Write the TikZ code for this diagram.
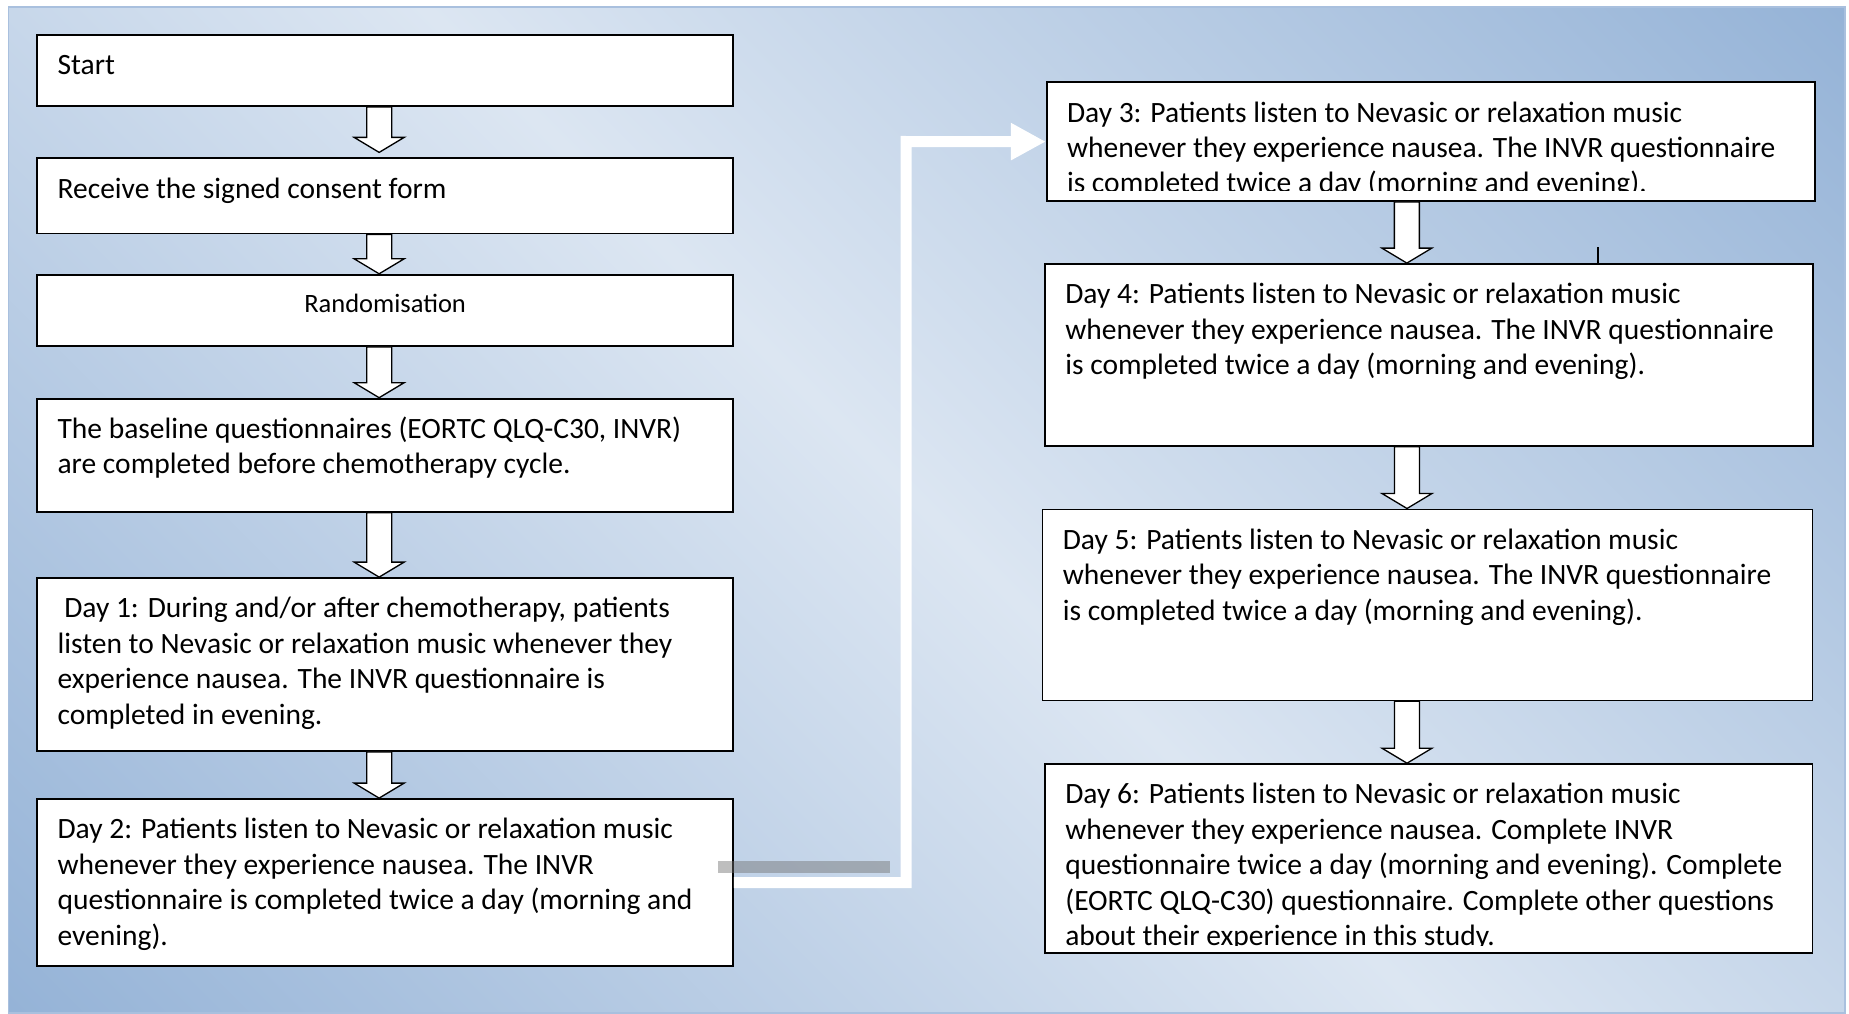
\documentclass[tikz,border=0pt]{standalone}
\usepackage{fontspec}
\setmainfont{Carlito}
\usetikzlibrary{calc,fit,arrows.meta}

\definecolor{bgdark}{HTML}{95B3D7}
\definecolor{bglight}{HTML}{DCE6F2}
\definecolor{frameline}{HTML}{A9C0DE}
\definecolor{barshade}{HTML}{707070}

% diagonal background: dark in two opposite corners, light along the diagonal
\pgfdeclareverticalshading{bgdiag}{100bp}{color(0bp)=(bgdark); color(14.6bp)=(bgdark);
  color(50bp)=(bglight); color(85.4bp)=(bgdark); color(100bp)=(bgdark)}

\newcommand\stepfont{\fontsize{29.5}{35.4}\selectfont}
\newcommand\smallstepfont{\fontsize{26.5}{31}\selectfont}
\newcommand\topstrut{\rule{0pt}{26pt}}

% hollow block arrow pointing down from #1 to the level of #2
\newcommand\blockarrow[2]{%
  \path[blockarr] let \p1=#1, \p2=#2 in
    (\x1-12.5pt,\y1) -- (\x1-12.5pt,\y2+15pt) -- (\x1-25pt,\y2+15pt) -- (\x1,\y2)
    -- (\x1+25pt,\y2+15pt) -- (\x1+12.5pt,\y2+15pt) -- (\x1+12.5pt,\y1) -- cycle;
}

\begin{document}
\begin{tikzpicture}[x=1pt,y=-1pt,
  stepbox/.style={draw=black, line width=1.8pt, fill=white, inner sep=0pt},
  steptext/.style={anchor=north west, inner sep=0pt, align=left, font=\stepfont},
  blockarr/.style={draw=black, line width=1.3pt, fill=white, line join=miter},
  flowlink/.style={draw=white, line width=11pt, line join=miter,
    -{Triangle[length=35pt,width=35pt]}},
  tickline/.style={draw=black, line width=1.3pt}]

\useasboundingbox (0,0) rectangle (1849,1014);

% framed background panel
\shade[shading=bgdiag, shading angle=-45] (8.5,7) rectangle (1845,1013);
\draw[frameline, line width=1.5pt] (8.5,7) rectangle (1845,1013);

% left column
\node[stepbox, fit={(37.3,34.7) (733,106)}] (start) {};
\node[steptext] (start-t) at ([xshift=21pt,yshift=-14.5pt]start.north west) {\topstrut Start};

\node[stepbox, fit={(37.3,158.3) (733,233.5)}] (recv) {};
\node[steptext] (recv-t) at ([xshift=21pt,yshift=-14.5pt]recv.north west) {\topstrut Receive the signed consent form};

\node[stepbox, fit={(37.3,274.7) (733,346)}] (rand) {};
\node[anchor=base, inner sep=0pt, font=\smallstepfont] (rand-t) at ([yshift=-39pt]rand.north) {Randomisation};

\node[stepbox, fit={(37.3,398.6) (733,511.8)}] (base) {};
\node[steptext] (base-t) at ([xshift=21pt,yshift=-14.5pt]base.north west)
  {\topstrut The baseline questionnaires (EORTC QLQ-C30, INVR)\\are completed before chemotherapy cycle.};

\node[stepbox, fit={(37.3,578) (733,751)}] (d1) {};
\node[steptext] (d1-t) at ([xshift=21pt,yshift=-14.5pt]d1.north west)
  {\topstrut\ Day 1: During and/or after chemotherapy, patients\\listen to Nevasic or relaxation music whenever they\\experience nausea. The INVR questionnaire is\\completed in evening.};

\node[stepbox, fit={(37.3,799) (733,966)}] (d2) {};
\node[steptext] (d2-t) at ([xshift=21pt,yshift=-14.5pt]d2.north west)
  {\topstrut Day 2: Patients listen to Nevasic or relaxation music\\whenever they experience nausea. The INVR\\questionnaire is completed twice a day (morning and\\evening).};

% right column
\node[stepbox, fit={(1046.7,82.3) (1815,201)}] (d3) {};
\begin{scope}
  \clip (d3.north west) rectangle ([yshift=11.7pt]d3.south east);
  \node[steptext] (d3-t) at ([xshift=21pt,yshift=-14.5pt]d3.north west)
    {\topstrut Day 3: Patients listen to Nevasic or relaxation music\\whenever they experience nausea. The INVR questionnaire\\is completed twice a day (morning and evening).};
\end{scope}

\node[stepbox, fit={(1045,264) (1813,445.7)}] (d4) {};
\node[steptext] (d4-t) at ([xshift=21pt,yshift=-14.5pt]d4.north west)
  {\topstrut Day 4: Patients listen to Nevasic or relaxation music\\whenever they experience nausea. The INVR questionnaire\\is completed twice a day (morning and evening).};

\node[stepbox, fit={(1042.5,509.4) (1812.5,700.4)}] (d5) {};
\node[steptext] (d5-t) at ([xshift=21pt,yshift=-14.5pt]d5.north west)
  {\topstrut Day 5: Patients listen to Nevasic or relaxation music\\whenever they experience nausea. The INVR questionnaire\\is completed twice a day (morning and evening).};

\node[stepbox, fit={(1045,764.1) (1812.5,952.8)}] (d6) {};
\begin{scope}
  \clip (d6.north west) rectangle ([yshift=8pt]d6.south east);
  \node[steptext] (d6-t) at ([xshift=21pt,yshift=-14.5pt]d6.north west)
    {\topstrut Day 6: Patients listen to Nevasic or relaxation music\\whenever they experience nausea. Complete INVR\\questionnaire twice a day (morning and evening). Complete\\(EORTC QLQ-C30) questionnaire. Complete other questions\\about their experience in this study.};
\end{scope}

% block arrows between steps
\blockarrow{([xshift=-6pt]start.south)}{([yshift=5pt]recv.north)}
\blockarrow{([xshift=-6pt]recv.south)}{(rand.north)}
\blockarrow{([xshift=-6pt]rand.south)}{(base.north)}
\blockarrow{([xshift=-6pt]base.south)}{(d1.north)}
\blockarrow{([xshift=-6pt]d1.south)}{(d2.north)}
\blockarrow{([xshift=-24pt]d3.south)}{(d4.north)}
\blockarrow{([xshift=-22pt]d4.south)}{(d5.north)}
\blockarrow{([xshift=-20.5pt]d5.south)}{(d6.north)}

% small tick above day 4
\draw[tickline] ([xshift=169pt]d4.north) -- ++(0,-16);

% grey bar at the right edge of day 2
\fill[barshade, opacity=0.45] (718,861) rectangle (890,873);

% white link from day 2 over to day 3
\coordinate (bend) at (906,141.5);
\draw[flowlink] (d2.east) -| (bend) -- (d3.west);

\end{tikzpicture}
\end{document}
